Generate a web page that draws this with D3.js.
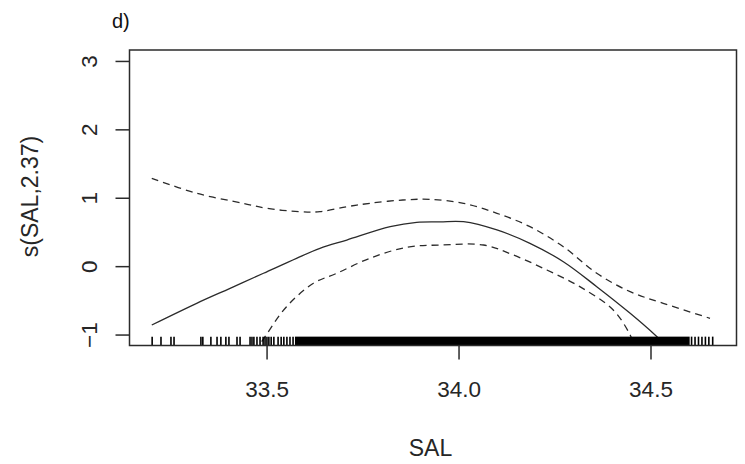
<!DOCTYPE html>
<html>
<head>
<meta charset="utf-8">
<script src="https://cdn.jsdelivr.net/npm/d3@7"></script>
<style>
  html, body { margin: 0; padding: 0; background: #fff; }
  svg { display: block; font-family: "Liberation Sans", Arial, sans-serif; }
</style>
</head>
<body>
<svg id="chart" width="745" height="464"></svg>
<script>
// Smooth term s(SAL, 2.37): fitted curve and its upper / lower confidence bands
const fitSal   = [33.201, 33.318, 33.405, 33.492, 33.578, 33.639, 33.709, 33.822, 33.891, 33.952, 34.013, 34.100, 34.186, 34.273, 34.360, 34.447, 34.512, 34.560];
const fitValue = [-0.860, -0.543, -0.324, -0.104, 0.115, 0.261, 0.382, 0.577, 0.641, 0.648, 0.650, 0.529, 0.334, 0.065, -0.300, -0.689, -1.006, -1.270];

const upperSal   = [33.201, 33.318, 33.439, 33.500, 33.587, 33.639, 33.709, 33.769, 33.855, 33.926, 34.013, 34.100, 34.186, 34.273, 34.360, 34.447, 34.533, 34.655];
const upperValue = [1.284, 1.065, 0.919, 0.846, 0.796, 0.796, 0.869, 0.919, 0.967, 0.977, 0.919, 0.773, 0.577, 0.284, -0.104, -0.373, -0.543, -0.762];

const lowerSal   = [33.470, 33.496, 33.552, 33.622, 33.683, 33.769, 33.865, 33.952, 34.065, 34.143, 34.230, 34.316, 34.403, 34.447, 34.465];
const lowerValue = [-1.250, -1.031, -0.593, -0.251, -0.104, 0.115, 0.276, 0.309, 0.309, 0.163, -0.056, -0.300, -0.641, -1.006, -1.260];

// Observed SAL values (rug); the central block is so dense its ticks merge
const rugSparse = [33.202, 33.225, 33.251, 33.259, 33.329, 33.334, 33.355, 33.371, 33.381, 33.394,
                   33.402, 33.423, 33.431, 33.457, 33.462, 33.467, 33.475, 33.483, 33.491, 33.496,
                   33.501, 33.506, 33.512, 33.519, 33.530, 33.538, 33.545, 33.553, 33.561, 33.569,
                   34.607, 34.616, 34.625, 34.634, 34.643, 34.652, 34.662];
const rugDense = [33.574, 34.602];

const xTicks = [33.5, 34.0, 34.5];
const yTicks = [-1, 0, 1, 2, 3];
const xDomain = [33.143, 34.724];
const yDomain = [-1.16, 3.16];

const panelLabel = "d)";
const xTitle = "SAL";
const yTitle = "s(SAL,2.37)";

const svg = d3.select("#chart");
const box = { left: 129.5, right: 736.5, top: 50, bottom: 345.5 };
const ink = "#2b2b2b";
const textInk = "#262626";

const x = d3.scaleLinear().domain(xDomain).range([box.left, box.right]);
const y = d3.scaleLinear().domain(yDomain).range([box.bottom, box.top]);

svg.append("rect").attr("width", 745).attr("height", 464).attr("fill", "#fff");

svg.append("defs").append("clipPath").attr("id", "plotClip")
  .append("rect")
  .attr("x", box.left).attr("y", box.top)
  .attr("width", box.right - box.left).attr("height", box.bottom - box.top);

const curves = svg.append("g").attr("clip-path", "url(#plotClip)");
const line = d3.line().x(d => x(d[0])).y(d => y(d[1])).curve(d3.curveCatmullRom.alpha(0.5));

const zip = (a, b) => a.map((v, i) => [v, b[i]]);

curves.append("path")
  .attr("d", line(zip(fitSal, fitValue)))
  .attr("fill", "none").attr("stroke", ink).attr("stroke-width", 1.3);

curves.append("path")
  .attr("d", line(zip(upperSal, upperValue)))
  .attr("fill", "none").attr("stroke", ink).attr("stroke-width", 1.3)
  .attr("stroke-dasharray", "7,5");

curves.append("path")
  .attr("d", line(zip(lowerSal, lowerValue)))
  .attr("fill", "none").attr("stroke", ink).attr("stroke-width", 1.3)
  .attr("stroke-dasharray", "7,5");

// Rug along the bottom edge, 3% of the plot height
const rugTop = box.bottom - 0.03 * (box.bottom - box.top);
const rug = svg.append("g");
rug.selectAll("line").data(rugSparse).join("line")
  .attr("x1", d => x(d)).attr("x2", d => x(d))
  .attr("y1", rugTop).attr("y2", box.bottom)
  .attr("stroke", "#000").attr("stroke-width", 1.6);
rug.append("rect")
  .attr("x", x(rugDense[0])).attr("y", rugTop)
  .attr("width", x(rugDense[1]) - x(rugDense[0]))
  .attr("height", box.bottom - rugTop)
  .attr("fill", "#000");

// Plot frame
svg.append("rect")
  .attr("x", box.left).attr("y", box.top)
  .attr("width", box.right - box.left).attr("height", box.bottom - box.top)
  .attr("fill", "none").attr("stroke", ink).attr("stroke-width", 1.5);

// Bottom axis
const xAxis = svg.append("g")
  .attr("transform", `translate(0,${box.bottom})`)
  .call(d3.axisBottom(x).tickValues(xTicks).tickFormat(d3.format(".1f")).tickSize(14).tickPadding(8));
xAxis.select(".domain").remove();
xAxis.selectAll(".tick line").attr("stroke", ink).attr("stroke-width", 1.5);
xAxis.selectAll(".tick text")
  .attr("fill", textInk).attr("font-size", 22.5)
  .attr("font-family", "'Liberation Sans', Arial, sans-serif")
  .attr("dy", 0).attr("y", 51.5);

// Left axis, labels rotated parallel to the axis
const yAxis = svg.append("g")
  .attr("transform", `translate(${box.left},0)`)
  .call(d3.axisLeft(y).tickValues(yTicks).tickFormat(d3.format("d")).tickSize(14));
yAxis.select(".domain").remove();
yAxis.selectAll(".tick line").attr("stroke", ink).attr("stroke-width", 1.5);
yAxis.selectAll(".tick text")
  .attr("fill", textInk).attr("font-size", 22.5)
  .attr("font-family", "'Liberation Sans', Arial, sans-serif")
  .attr("x", null).attr("dy", null)
  .attr("text-anchor", "middle")
  .attr("transform", "translate(-33,0) rotate(-90)");

// Titles
svg.append("text")
  .attr("x", 430.5).attr("y", 456)
  .attr("text-anchor", "middle")
  .attr("font-size", 23).attr("fill", textInk)
  .text(xTitle);

svg.append("text")
  .attr("transform", "translate(37.5,196.5) rotate(-90)")
  .attr("text-anchor", "middle")
  .attr("font-size", 23).attr("fill", textInk)
  .text(yTitle);

svg.append("text")
  .attr("x", 112).attr("y", 27.5)
  .attr("font-size", 20).attr("fill", "#111")
  .text(panelLabel);
</script>
</body>
</html>
